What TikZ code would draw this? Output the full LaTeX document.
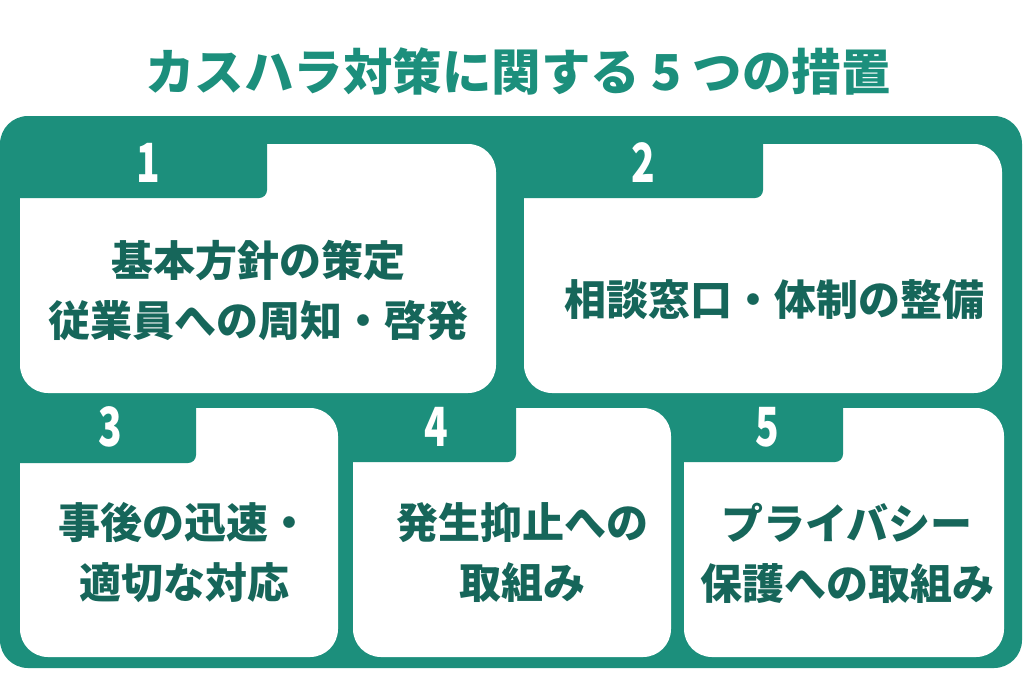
\documentclass[tikz,border=0pt]{standalone}
\usepackage{fontspec}
\usepackage{graphicx}
\newfontfamily\jp{Noto Sans CJK JP}
\definecolor{bggreen}{HTML}{1C8F7C}
\definecolor{darkteal}{HTML}{16665A}
\newcommand\mycard[7]{%
  % #1 x0, #2 y0, #3 x1, #4 y1, #5 tab right, #6 tab bottom, #7 name
  \fill[white,rounded corners=28pt] (#1,#2) rectangle (#3,#4);
  \fill[bggreen] (#1-6,#2-6) -- (#5,#2-6) [rounded corners=8pt] -- (#5,#6) [sharp corners] -- (#1-6,#6) -- cycle;
  \coordinate (#7) at ({(#1+#3)/2},{(#2+#4)/2});
}
\tikzset{
  numtxt/.style={text=white,font=\jp\bfseries\fontsize{54}{54}\selectfont,inner sep=0pt,xscale=0.72},
  cardtxt/.style={text=darkteal,font=\jp\bfseries\fontsize{42}{60}\selectfont,align=center,inner sep=0pt},
  titletxt/.style={text=bggreen,font=\jp\bfseries\fontsize{49.5}{49.5}\selectfont,inner sep=0pt}
}
\begin{document}
\begin{tikzpicture}[x=1pt,y=-1pt]
\useasboundingbox (0,0) rectangle (1024,683);
\fill[white] (0,0) rectangle (1024,683);
\node[titletxt] (title) at (518,71) {カスハラ対策に関する 5 つの措置};
\fill[bggreen,rounded corners=28pt] (0,116) rectangle (1022,668);
\mycard{20}{144}{496}{393}{267}{198}{c1}
\mycard{524}{144}{1002}{393}{763}{198}{c2}
\mycard{20}{408}{338}{657}{196}{463}{c3}
\mycard{353}{408}{671}{657}{516}{462}{c4}
\mycard{684}{408}{1004}{657}{843}{462}{c5}
\node[numtxt] (n1) at (148,163) {1};
\node[numtxt] (n2) at (643,163) {2};
\node[numtxt] (n3) at (110,427) {3};
\node[numtxt] (n4) at (436,427) {4};
\node[numtxt] (n5) at (767,427) {5};
\node[cardtxt] (t1) at (258,290) {基本方針の策定\\従業員への周知・啓発};
\node[cardtxt] (t2) at (774,300) {相談窓口・体制の整備};
\node[cardtxt] (t3) at (184,553) {事後の迅速・\\適切な対応};
\node[cardtxt] (t4) at (522,553) {発生抑止への\\取組み};
\node[cardtxt] (t5) at (847,553) {プライバシー\\保護への取組み};
\end{tikzpicture}
\end{document}
